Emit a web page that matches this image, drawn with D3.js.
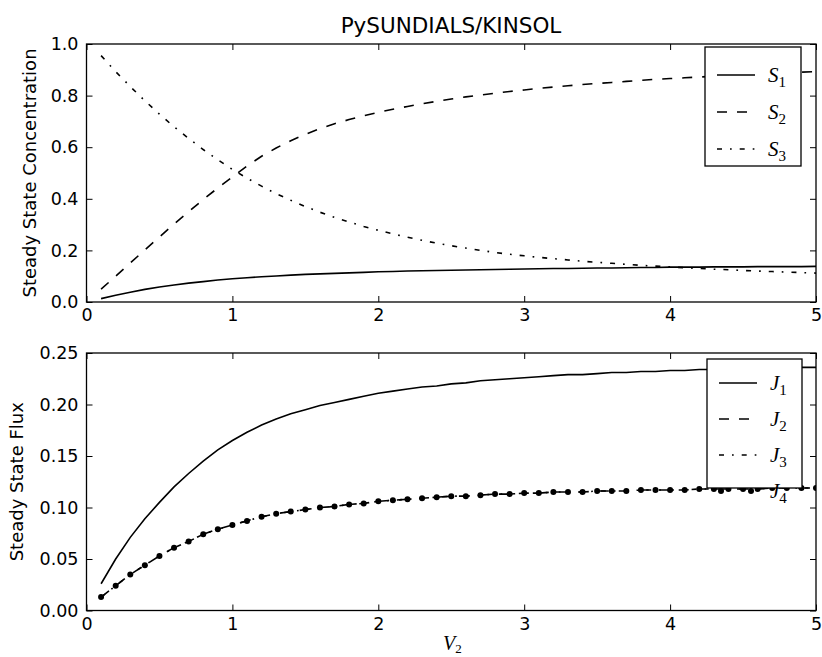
<!DOCTYPE html>
<html>
<head>
<meta charset="utf-8">
<script src="https://cdn.jsdelivr.net/npm/d3@7"></script>
<style>
body { margin: 0; background: #fff; }
svg text { font-family: "DejaVu Sans", sans-serif; fill: #000; }
.math { font-family: "Liberation Serif", "DejaVu Serif", serif; font-style: italic; }
</style>
</head>
<body>
<div id="chart"></div>
<script>
var width = 822, height = 657;

// V2 values used in the scan
var V = [0.1,0.2,0.3,0.4,0.5,0.6,0.7,0.8,0.9,1.0,
  1.1,1.2,1.3,1.4,1.5,1.6,1.7,1.8,1.9,2.0,
  2.1,2.2,2.3,2.4,2.5,2.6,2.7,2.8,2.9,3.0,
  3.1,3.2,3.3,3.4,3.5,3.6,3.7,3.8,3.9,4.0,
  4.1,4.2,4.3,4.4,4.5,4.6,4.7,4.8,4.9,5.0];

// steady state concentrations
var S1 = [0.013,0.026,0.038,0.049,0.058,0.066,0.073,0.079,0.085,0.090,
  0.094,0.098,0.101,0.104,0.107,0.109,0.111,0.113,0.115,0.117,
  0.118,0.120,0.121,0.122,0.123,0.124,0.125,0.126,0.127,0.128,
  0.129,0.130,0.130,0.131,0.132,0.132,0.133,0.134,0.134,0.135,
  0.135,0.135,0.136,0.136,0.136,0.137,0.137,0.137,0.137,0.138];
var S2 = [0.050,0.100,0.151,0.202,0.252,0.302,0.350,0.397,0.442,0.485,
  0.527,0.565,0.597,0.625,0.650,0.672,0.691,0.707,0.722,0.735,
  0.747,0.758,0.768,0.778,0.787,0.795,0.802,0.809,0.816,0.822,
  0.828,0.833,0.838,0.843,0.847,0.851,0.855,0.859,0.863,0.866,
  0.869,0.872,0.875,0.878,0.881,0.884,0.886,0.889,0.891,0.893];
var S3 = [0.955,0.893,0.835,0.780,0.728,0.679,0.634,0.591,0.551,0.514,
  0.480,0.449,0.420,0.394,0.370,0.348,0.328,0.310,0.293,0.278,
  0.264,0.251,0.239,0.228,0.218,0.209,0.200,0.192,0.185,0.179,
  0.173,0.168,0.163,0.158,0.154,0.150,0.146,0.142,0.139,0.136,
  0.133,0.130,0.127,0.125,0.122,0.120,0.118,0.116,0.114,0.112];

// steady state fluxes
var J1 = [0.026,0.050,0.071,0.089,0.105,0.120,0.133,0.145,0.156,0.165,
  0.173,0.180,0.186,0.191,0.195,0.199,0.202,0.205,0.208,0.211,
  0.213,0.215,0.217,0.218,0.220,0.221,0.223,0.224,0.225,0.226,
  0.227,0.228,0.229,0.229,0.230,0.231,0.231,0.232,0.232,0.233,
  0.233,0.234,0.234,0.234,0.235,0.235,0.235,0.236,0.236,0.236];
var J2 = [0.013,0.024,0.035,0.044,0.053,0.061,0.067,0.074,0.079,0.083,
  0.087,0.091,0.094,0.096,0.098,0.100,0.101,0.103,0.104,0.106,
  0.107,0.108,0.109,0.110,0.111,0.111,0.112,0.113,0.113,0.114,
  0.114,0.115,0.115,0.115,0.116,0.116,0.116,0.117,0.117,0.117,
  0.117,0.118,0.118,0.118,0.118,0.118,0.119,0.119,0.119,0.119];
var J3 = [0.013,0.024,0.035,0.044,0.053,0.061,0.067,0.074,0.079,0.083,
  0.087,0.091,0.094,0.096,0.098,0.100,0.101,0.103,0.104,0.106,
  0.107,0.108,0.109,0.110,0.111,0.111,0.112,0.113,0.113,0.114,
  0.114,0.115,0.115,0.115,0.116,0.116,0.116,0.117,0.117,0.117,
  0.117,0.118,0.118,0.118,0.118,0.118,0.119,0.119,0.119,0.119];
var J4 = [0.013,0.024,0.035,0.044,0.053,0.061,0.067,0.074,0.079,0.083,
  0.087,0.091,0.094,0.096,0.098,0.100,0.101,0.103,0.104,0.106,
  0.107,0.108,0.109,0.110,0.111,0.111,0.112,0.113,0.113,0.114,
  0.114,0.115,0.115,0.115,0.116,0.116,0.116,0.117,0.117,0.117,
  0.117,0.118,0.118,0.118,0.118,0.118,0.119,0.119,0.119,0.119];

var xTicks = [0, 1, 2, 3, 4, 5];
var concTicks = [0, 0.2, 0.4, 0.6, 0.8, 1.0];
var fluxTicks = [0, 0.05, 0.10, 0.15, 0.20, 0.25];

var DASH = {solid: null, dashed: "10,10", dashdot: "5,8,1.7,8"};

var svg = d3.select("#chart").append("svg")
  .attr("width", width)
  .attr("height", height);

var x = d3.scaleLinear().domain([0, 5]).range([86.5, 816]);

drawPanel = function(p){
  var y = d3.scaleLinear().domain(p.domain).range([p.bottom, p.top]);
  var g = svg.append("g");
  var clipId = "clip" + p.id;
  g.append("clipPath").attr("id", clipId)
    .append("rect")
    .attr("x", x.range()[0]).attr("y", p.top)
    .attr("width", x.range()[1] - x.range()[0])
    .attr("height", p.bottom - p.top);

  var line = d3.line()
    .x(function(d, i){ return x(V[i]); })
    .y(function(d){ return y(d); });

  var plot = g.append("g").attr("clip-path", "url(#" + clipId + ")");
  p.series.forEach(function(s){
    if(s.style){
      plot.append("path")
        .attr("d", line(s.data))
        .attr("fill", "none")
        .attr("stroke", "#000")
        .attr("stroke-width", 1.6)
        .attr("stroke-dasharray", DASH[s.style]);
    }
    if(s.marker){
      plot.selectAll(null).data(s.data).enter().append("circle")
        .attr("cx", function(d, i){ return x(V[i]); })
        .attr("cy", function(d){ return y(d); })
        .attr("r", 3)
        .attr("fill", "#000");
    }
  });

  // ticks on all four sides, pointing inward
  g.append("g").attr("transform", "translate(0," + p.bottom + ")")
    .call(d3.axisBottom(x).tickValues(xTicks).tickSize(-6).tickPadding(7).tickFormat(d3.format("d")));
  g.append("g").attr("transform", "translate(0," + p.top + ")")
    .call(d3.axisTop(x).tickValues(xTicks).tickSize(-6).tickFormat(""));
  g.append("g").attr("transform", "translate(" + x.range()[0] + ",0)")
    .call(d3.axisLeft(y).tickValues(p.ticks).tickSize(-6).tickPadding(8).tickFormat(d3.format(p.fmt)));
  g.append("g").attr("transform", "translate(" + x.range()[1] + ",0)")
    .call(d3.axisRight(y).tickValues(p.ticks).tickSize(-6).tickFormat(""));
  g.selectAll(".domain").remove();
  g.selectAll(".tick line").attr("stroke", "#000").attr("stroke-width", 1);
  g.selectAll(".tick text").style("font-size", "17.5px").style("font-family", "DejaVu Sans").attr("fill", "#000");

  g.append("rect")
    .attr("x", x.range()[0]).attr("y", p.top)
    .attr("width", x.range()[1] - x.range()[0])
    .attr("height", p.bottom - p.top)
    .attr("fill", "none")
    .attr("stroke", "#000")
    .attr("stroke-width", 1.3);

  g.append("text")
    .attr("transform", "translate(" + p.labelX + "," + ((p.top + p.bottom) / 2) + ") rotate(-90)")
    .attr("text-anchor", "middle")
    .style("font-size", "18px")
    .text(p.label);

  // legend
  var L = p.legend;
  var lg = g.append("g");
  lg.append("rect")
    .attr("x", L.x).attr("y", L.y)
    .attr("width", L.w).attr("height", L.h)
    .attr("fill", "#fff")
    .attr("stroke", "#000")
    .attr("stroke-width", 1.3);
  p.series.forEach(function(s, i){
    var ry = L.y + L.first + i * L.step;
    if(s.style){
      lg.append("line")
        .attr("x1", L.x + 12).attr("x2", L.x + 50)
        .attr("y1", ry).attr("y2", ry)
        .attr("stroke", "#000")
        .attr("stroke-width", 1.6)
        .attr("stroke-dasharray", DASH[s.style]);
    }
    if(s.marker){
      [L.x + 14, L.x + 44].forEach(function(mx){
        lg.append("circle").attr("cx", mx).attr("cy", ry).attr("r", 3).attr("fill", "#000");
      });
    }
    var t = lg.append("text")
      .attr("class", "math")
      .attr("x", L.x + 63)
      .attr("y", ry + 7)
      .style("font-size", "21px");
    t.append("tspan").text(s.name);
    t.append("tspan").attr("dy", 5).style("font-size", "15px").style("font-style", "normal").text(s.sub);
  });
}

drawPanel({
  id: 1, top: 44, bottom: 302, domain: [0, 1], ticks: concTicks, fmt: ".1f",
  label: "Steady State Concentration", labelX: 36,
  series: [
    {name: "S", sub: "1", data: S1, style: "solid"},
    {name: "S", sub: "2", data: S2, style: "dashed"},
    {name: "S", sub: "3", data: S3, style: "dashdot"}
  ],
  legend: {x: 705, y: 47, w: 96, h: 119, first: 28, step: 37}
});

drawPanel({
  id: 2, top: 353, bottom: 610.5, domain: [0, 0.25], ticks: fluxTicks, fmt: ".2f",
  label: "Steady State Flux", labelX: 23,
  series: [
    {name: "J", sub: "1", data: J1, style: "solid"},
    {name: "J", sub: "2", data: J2, style: "dashed"},
    {name: "J", sub: "3", data: J3, style: "dashdot"},
    {name: "J", sub: "4", data: J4, marker: true}
  ],
  legend: {x: 707, y: 359, w: 95, h: 129, first: 24, step: 36}
});

svg.append("text")
  .attr("x", 451).attr("y", 33)
  .attr("text-anchor", "middle")
  .style("font-size", "21.5px")
  .text("PySUNDIALS/KINSOL");

var xl = svg.append("text")
  .attr("class", "math")
  .attr("x", 443).attr("y", 650)
  .style("font-size", "20px");
xl.append("tspan").text("V");
xl.append("tspan").attr("dy", 3).style("font-size", "13px").style("font-style", "normal").text("2");
</script>
</body>
</html>
